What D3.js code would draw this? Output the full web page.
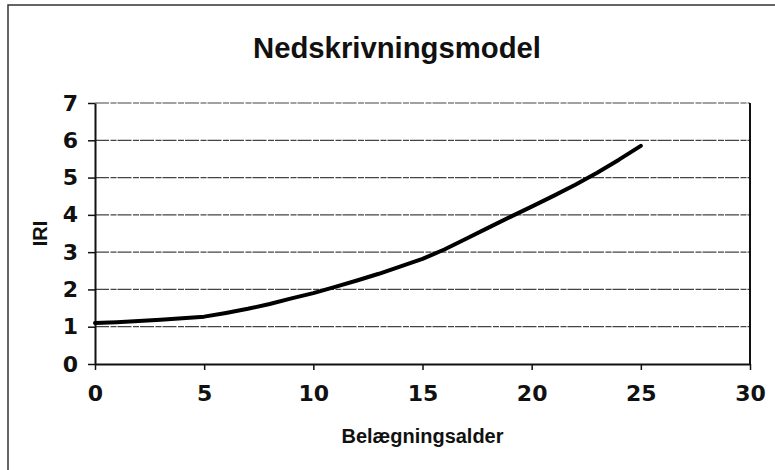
<!DOCTYPE html>
<html>
<head>
<meta charset="utf-8">
<script src="https://cdn.jsdelivr.net/npm/d3@7"></script>
<style>
  body { margin: 0; background: #fff; }
  svg { display: block; }
</style>
</head>
<body>
<svg id="chart" width="775" height="470"></svg>
<script>
const title = 'Nedskrivningsmodel';
const xTitle = 'Belægningsalder';
const yTitle = 'IRI';

// belægningsalder (år) og IRI, aflæst fra kurven
const ages = [0, 1, 2, 3, 4, 5, 6, 7, 8, 9, 10, 11, 12, 13, 14, 15, 16, 17, 18, 19, 20, 21, 22, 23, 24, 25];
const iri = [1.10, 1.12, 1.15, 1.19, 1.23, 1.27, 1.37, 1.48, 1.61, 1.76, 1.90, 2.07, 2.24, 2.42, 2.62, 2.82, 3.07, 3.36, 3.65, 3.94, 4.22, 4.51, 4.81, 5.13, 5.48, 5.85];

const xTicks = [0, 5, 10, 15, 20, 25, 30];
const yTicks = [0, 1, 2, 3, 4, 5, 6, 7];

const svg = d3.select('#chart');
const margin = {top: 103, left: 95, right: 25, bottom: 106};
const width = 775;
const height = 470;

const x = d3.scaleLinear().domain([0, 30]).range([margin.left, width - margin.right]);
const y = d3.scaleLinear().domain([0, 7]).range([height - margin.bottom, margin.top]);

// outer chart area frame (only top and left visible in the scan)
svg.append('path')
  .attr('d', `M8,470V5H775`)
  .attr('fill', 'none')
  .attr('stroke', '#333')
  .attr('stroke-width', 1.5);

svg.append('text')
  .attr('x', 397)
  .attr('y', 58)
  .attr('text-anchor', 'middle')
  .attr('font-family', 'Liberation Sans, Arial, sans-serif')
  .attr('font-weight', 'bold')
  .attr('font-size', 29)
  .attr('textLength', 288)
  .attr('lengthAdjust', 'spacingAndGlyphs')
  .attr('fill', '#111')
  .text(title);

// gridlines
svg.append('g')
  .selectAll('line')
  .data(yTicks.filter(d => d > 0))
  .join('line')
  .attr('x1', x(0))
  .attr('x2', x(30))
  .attr('y1', d => y(d))
  .attr('y2', d => y(d))
  .attr('stroke', '#444')
  .attr('stroke-width', 1.2)
  .attr('stroke-dasharray', '14,1.5,6,1');

// right border of plot area
svg.append('line')
  .attr('x1', x(30)).attr('x2', x(30))
  .attr('y1', y(7)).attr('y2', y(0))
  .attr('stroke', '#111')
  .attr('stroke-width', 2);

const tickFont = (g) => g.selectAll('text')
  .attr('font-family', 'DejaVu Sans, sans-serif')
  .attr('font-weight', 'bold')
  .attr('font-size', 22)
  .attr('fill', '#111');

const xAxis = d3.axisBottom(x).tickValues(xTicks).tickSize(6).tickPadding(15).tickSizeOuter(0);
const yAxis = d3.axisLeft(y).tickValues(yTicks).tickFormat(d3.format('d')).tickSize(7).tickPadding(10).tickSizeOuter(0);

svg.append('g')
  .attr('transform', `translate(0,${y(0)})`)
  .call(xAxis)
  .call(g => g.select('.domain').attr('stroke', '#111').attr('stroke-width', 2))
  .call(g => g.selectAll('.tick line').attr('stroke', '#111').attr('stroke-width', 1.5))
  .call(tickFont);

svg.append('g')
  .attr('transform', `translate(${x(0)},0)`)
  .call(yAxis)
  .call(g => g.select('.domain').attr('stroke', '#111').attr('stroke-width', 2))
  .call(g => g.selectAll('.tick line').attr('stroke', '#111').attr('stroke-width', 1.5))
  .call(tickFont);

svg.append('text')
  .attr('x', (x(0) + x(30)) / 2)
  .attr('y', 443)
  .attr('text-anchor', 'middle')
  .attr('font-family', 'Liberation Sans, Arial, sans-serif')
  .attr('font-weight', 'bold')
  .attr('font-size', 20)
  .attr('textLength', 162)
  .attr('lengthAdjust', 'spacingAndGlyphs')
  .attr('fill', '#111')
  .text(xTitle);

svg.append('text')
  .attr('transform', `translate(47,${(y(0) + y(7)) / 2}) rotate(-90)`)
  .attr('text-anchor', 'middle')
  .attr('font-family', 'Liberation Sans, Arial, sans-serif')
  .attr('font-weight', 'bold')
  .attr('font-size', 20)
  .attr('fill', '#111')
  .text(yTitle);

const line = d3.line()
  .x((d, i) => x(ages[i]))
  .y(d => y(d));

svg.append('path')
  .datum(iri)
  .attr('d', line)
  .attr('fill', 'none')
  .attr('stroke', '#000')
  .attr('stroke-width', 4)
  .attr('stroke-linejoin', 'round')
  .attr('stroke-linecap', 'round');
</script>
</body>
</html>
